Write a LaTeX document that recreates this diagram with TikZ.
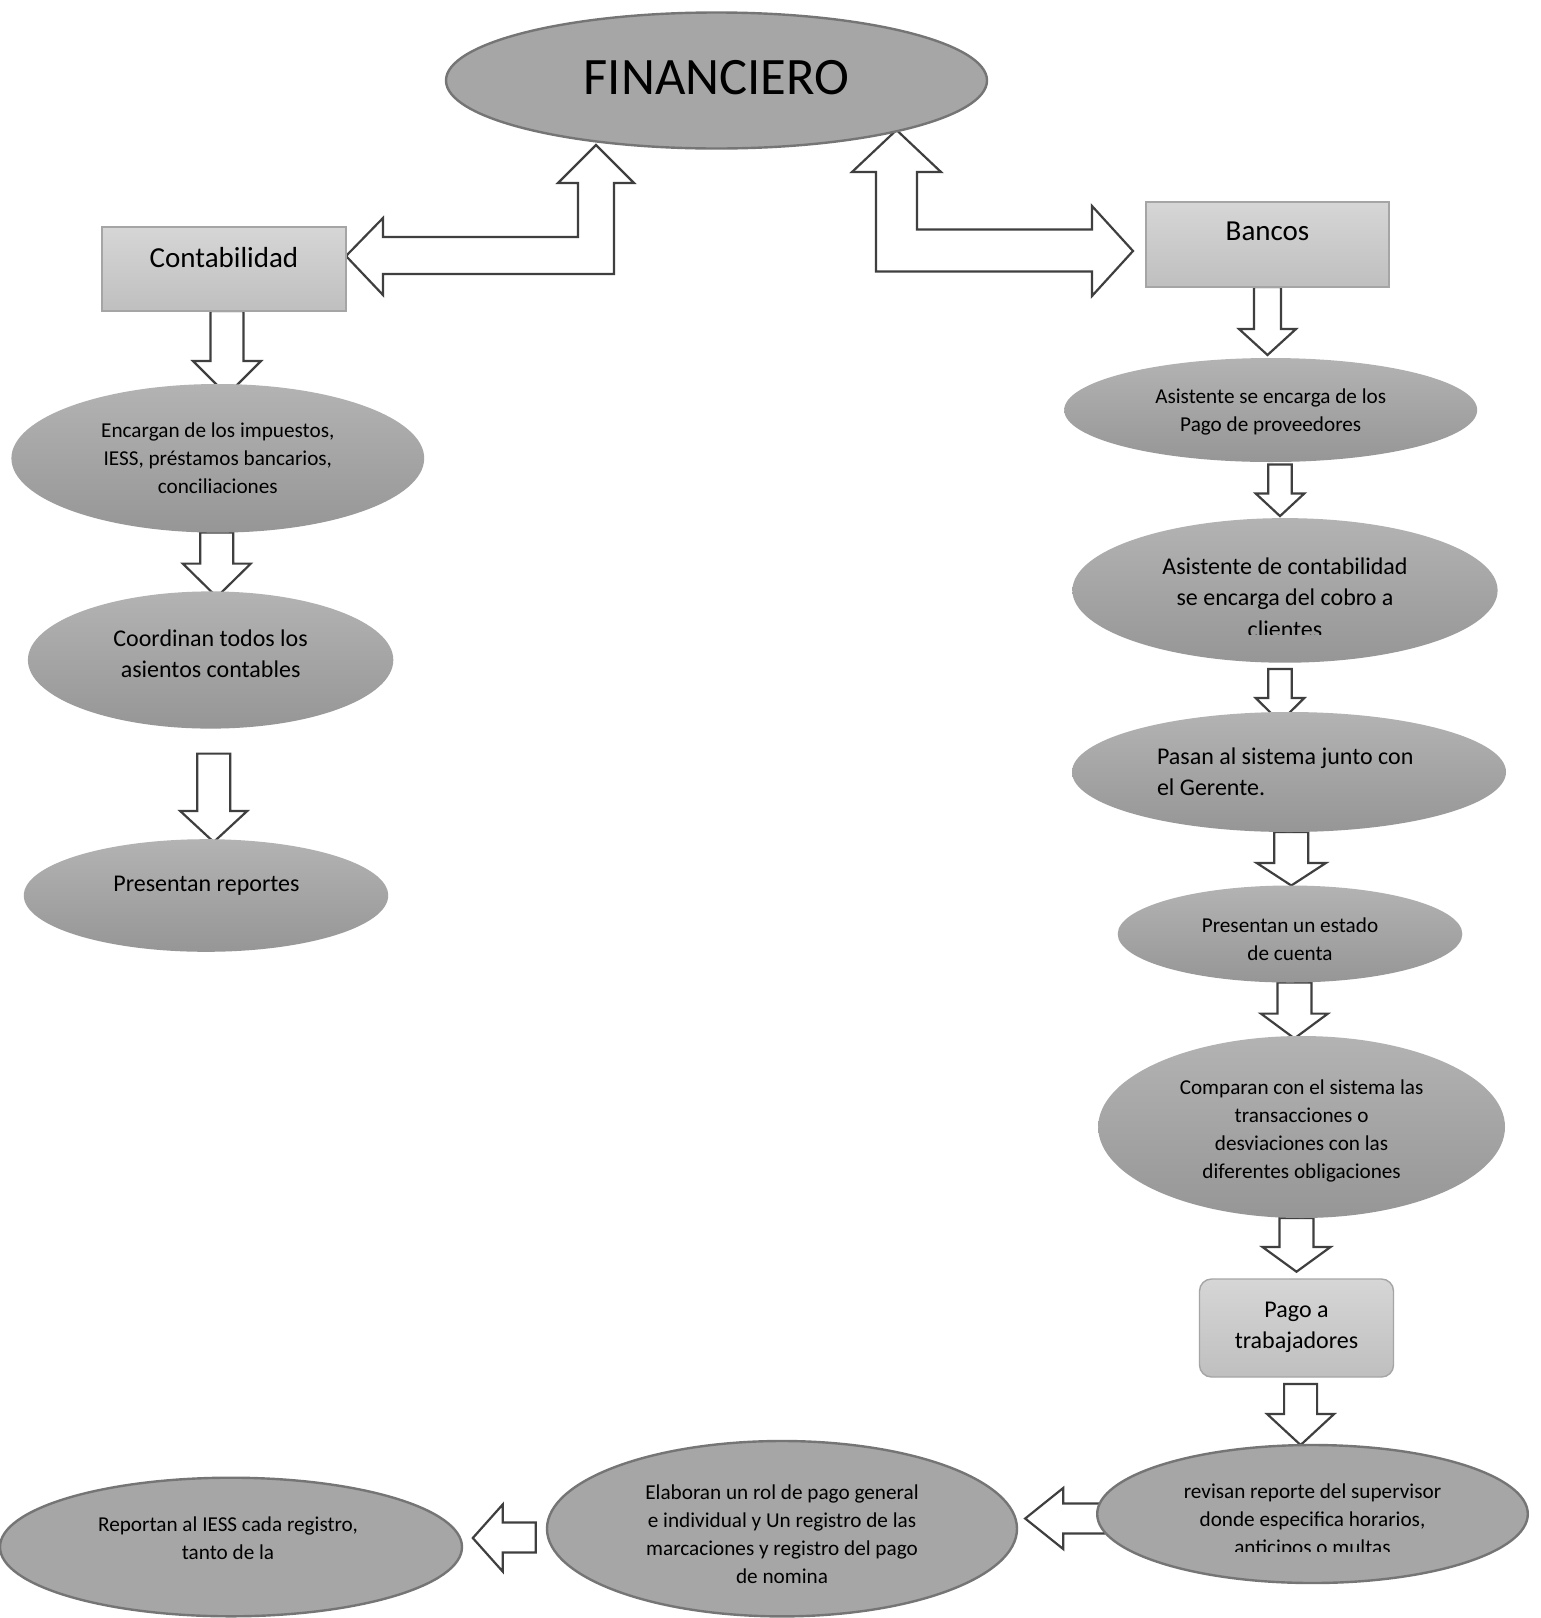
\documentclass[tikz,border=0pt]{standalone}
\usepackage{fontspec}
\setmainfont{Carlito}
\usetikzlibrary{shapes.geometric,calc}

\definecolor{ellflat}{HTML}{A6A6A6}
\definecolor{ellborder}{HTML}{757575}
\definecolor{elltop}{HTML}{B3B3B3}
\definecolor{ellbot}{HTML}{969696}
\definecolor{boxtop}{HTML}{D6D6D6}
\definecolor{boxbot}{HTML}{BFBFBF}
\definecolor{boxborder}{HTML}{A5A5A5}
\definecolor{arrowline}{HTML}{3F3F3F}

\pgfdeclarelayer{bg}
\pgfdeclarelayer{arrows}
\pgfsetlayers{bg,arrows,main}

\tikzset{
  flatell/.style={ellipse, draw=ellborder, line width=1.2pt, fill=ellflat, inner sep=0pt, outer sep=0pt},
  shadeell/.style={ellipse, top color=elltop, bottom color=ellbot, draw=none, inner sep=0pt, outer sep=0pt},
  esz/.style 2 args={minimum width=#1pt, minimum height=#2pt},
  greybox/.style={rectangle, draw=boxborder, line width=0.7pt, top color=boxtop, bottom color=boxbot, inner sep=0pt, outer sep=0pt},
  blockarrow/.style={draw=arrowline, fill=white, line width=1.1pt, line join=miter},
  lbl/.style={inner sep=0pt, outer sep=0pt, text=black, align=center},
  smalltxt/.style={font=\fontsize{10.6}{14}\selectfont},
  midtxt/.style={font=\fontsize{12}{15.75}\selectfont},
  boxtxt/.style={font=\fontsize{14.5}{17}\selectfont},
  titletxt/.style={font=\fontsize{26.3}{30}\selectfont}
}

% Hollow down arrow between two nodes:
% #1 from, #2 to, #3 x shift, #4 top gap, #5 tip gap, #6 head length,
% #7 shaft half width, #8 head half width (all in pixel units)
\newcommand\dnarrow[8]{%
  \path (#1.south) ++(#3,#4) coordinate (#1-#2-s);
  \path (#1.south |- #2.north) ++(#3,#5) coordinate (#1-#2-t);
  \draw[blockarrow] ($(#1-#2-s)+(-#7,0)$) -- ($(#1-#2-s)+(#7,0)$)
    -- ($(#1-#2-t)+(#7,-#6)$) -- ($(#1-#2-t)+(#8,-#6)$) -- (#1-#2-t)
    -- ($(#1-#2-t)+(-#8,-#6)$) -- ($(#1-#2-t)+(-#7,-#6)$) -- cycle;
}

\begin{document}
\begin{tikzpicture}[x=0.5pt, y=-0.5pt]
\begin{pgfonlayer}{bg}
  \fill[white] (0,0) rectangle (1541,1618);
\end{pgfonlayer}
\useasboundingbox (0,0) rectangle (1541,1618);

% ---- shapes ----
\node[flatell, esz={270.5}{68}] (fin) at (716.5,80.5) {};
\node[greybox, minimum width=122pt, minimum height=42pt] (contab) at (224,269) {};
\node[greybox, minimum width=121.5pt, minimum height=42.5pt] (bancos) at (1267.5,244.5) {};

% left column
\node[shadeell, esz={206.4}{74.3}] (l1) at (217.8,458.3) {};
\node[shadeell, esz={182.7}{68.6}] (l2) at (210.6,660) {};
\node[shadeell, esz={182.2}{56.3}] (l3) at (206,895.5) {};

% right column
\node[shadeell, esz={206.5}{52}] (a1) at (1270.7,410) {};
\node[shadeell, esz={212.6}{72.3}] (a2) at (1285,590.4) {};
\node[shadeell, esz={217}{60}] (a3) at (1289,772) {};
\node[shadeell, esz={172.3}{48.5}] (a4) at (1290,934) {};
\node[shadeell, esz={203.4}{91}] (a5) at (1301.6,1127) {};
\node[greybox, rounded corners=6pt, minimum width=97pt, minimum height=49pt] (pago) at (1296.5,1328) {};

% bottom row
\node[flatell, esz={215.3}{69}] (rev) at (1312.5,1514) {};
\node[flatell, esz={235}{87.7}] (elab) at (782,1528.7) {};
\node[flatell, esz={231}{69.3}] (rep) at (231,1547) {};

% ---- texts ----
\node[lbl, titletxt] (t-fin) at (716.5,77.4) {FINANCIERO};
\node[lbl, boxtxt] (t-contab) at (224,258) {Contabilidad};
\node[lbl, boxtxt] (t-bancos) at (1267.5,231) {Bancos};

\node[lbl, smalltxt] (t-l1) at (217.8,458) {Encargan de los impuestos,\\IESS, préstamos bancarios,\\conciliaciones};
\node[lbl, midtxt] (t-l2) at (210.6,653.5) {Coordinan todos los\\asientos contables};
\node[lbl, midtxt] (t-l3) at (206.4,885.6) {Presentan reportes};

\node[lbl, smalltxt] (t-a1) at (1270.7,412.3) {Asistente se encarga de los\\Pago de proveedores};
\begin{scope}
  \clip (1060,520) rectangle (1500,634.6);
  \node[lbl, midtxt] (t-a2) at (1285,597.3) {Asistente de contabilidad\\se encarga del cobro a\\clientes};
\end{scope}
\node[lbl, midtxt, align=left, anchor=west] (t-a3) at (1157,771.5) {Pasan al sistema junto con\\el Gerente.};
\node[lbl, smalltxt] (t-a4) at (1290,938.8) {Presentan un estado\\de cuenta};
\node[lbl, smalltxt] (t-a5) at (1301.6,1131.2) {Comparan con el sistema las\\transacciones o\\desviaciones con las\\diferentes obligaciones};
\node[lbl, midtxt] (t-pago) at (1296.5,1327.5) {Pago a\\trabajadores};
\begin{scope}
  \clip (1100,1450) rectangle (1530,1551.5);
  \node[lbl, smalltxt] (t-rev) at (1312.5,1521.3) {revisan reporte del supervisor\\donde especifica horarios,\\anticipos o multas};
\end{scope}
\node[lbl, smalltxt] (t-elab) at (782,1534.3) {Elaboran un rol de pago general\\e individual y Un registro de las\\marcaciones y registro del pago\\de nomina};
\node[lbl, smalltxt] (t-rep) at (228,1538) {Reportan al IESS cada registro,\\tanto de la};

% ---- hollow block arrows ----
\begin{pgfonlayer}{arrows}
  % Contabilidad <-> Financiero
  \draw[blockarrow] (contab.east) ++(0,-13) coordinate (lb-tip)
    -- ++(37,-38) -- ++(0,19) -- ++(195,0) -- ++(0,-54) -- ++(-20,0)
    -- ++(38,-38) -- ++(38,38) -- ++(-20,0) -- ++(0,91) -- ++(-231,0)
    -- ++(0,21) -- cycle;
  % Financiero <-> Bancos
  \draw[blockarrow] (bancos.west) ++(-13,6.5) coordinate (rb-tip)
    -- ++(-41,45) -- ++(0,-24.5) -- ++(-216,0) -- ++(0,-99.5) -- ++(-24,0)
    -- ++(44.5,-42) -- ++(44.5,42) -- ++(-24,0) -- ++(0,57.5) -- ++(175,0)
    -- ++(0,-23.5) -- cycle;

  % left column
  \dnarrow{contab}{l1}{3}{0}{11}{34}{16.5}{34}
  \dnarrow{l1}{l2}{-1}{0}{5.6}{33.4}{16.5}{34}
  \dnarrow{l2}{l3}{3.1}{25}{2.8}{31}{16.5}{33.5}

  % right column
  \dnarrow{bancos}{a1}{0}{0}{-3}{26}{13.5}{28.5}
  \dnarrow{a1}{a2}{9.3}{2.5}{-2}{22.6}{11.7}{24.3}
  \dnarrow{a2}{a3}{-5}{6.3}{10}{24}{11.7}{24.3}
  \dnarrow{a3}{a4}{2.3}{0}{0}{22.6}{17}{34.7}
  \dnarrow{a4}{a5}{4.4}{0}{2.4}{24.8}{17}{33.5}
  \dnarrow{a5}{pago}{-5.1}{0}{-7.3}{24.7}{17}{34}
  \dnarrow{pago}{rev}{4.1}{7}{0}{31}{16.5}{33.5}

  % bottom row, right to left
  \draw[blockarrow] (rev.west) ++(-72,4.5) coordinate (re-tip)
    -- ++(38,-30.5) -- ++(0,15.5) -- ++(41,0) -- ++(0,30) -- ++(-41,0)
    -- ++(0,15.5) -- cycle;
  \draw[blockarrow] (elab.west) ++(-74.2,9.3) coordinate (er-tip)
    -- ++(29.9,-33.5) -- ++(0,18) -- ++(33,0) -- ++(0,30) -- ++(-33,0)
    -- ++(0,19) -- cycle;
\end{pgfonlayer}
\end{tikzpicture}
\end{document}
